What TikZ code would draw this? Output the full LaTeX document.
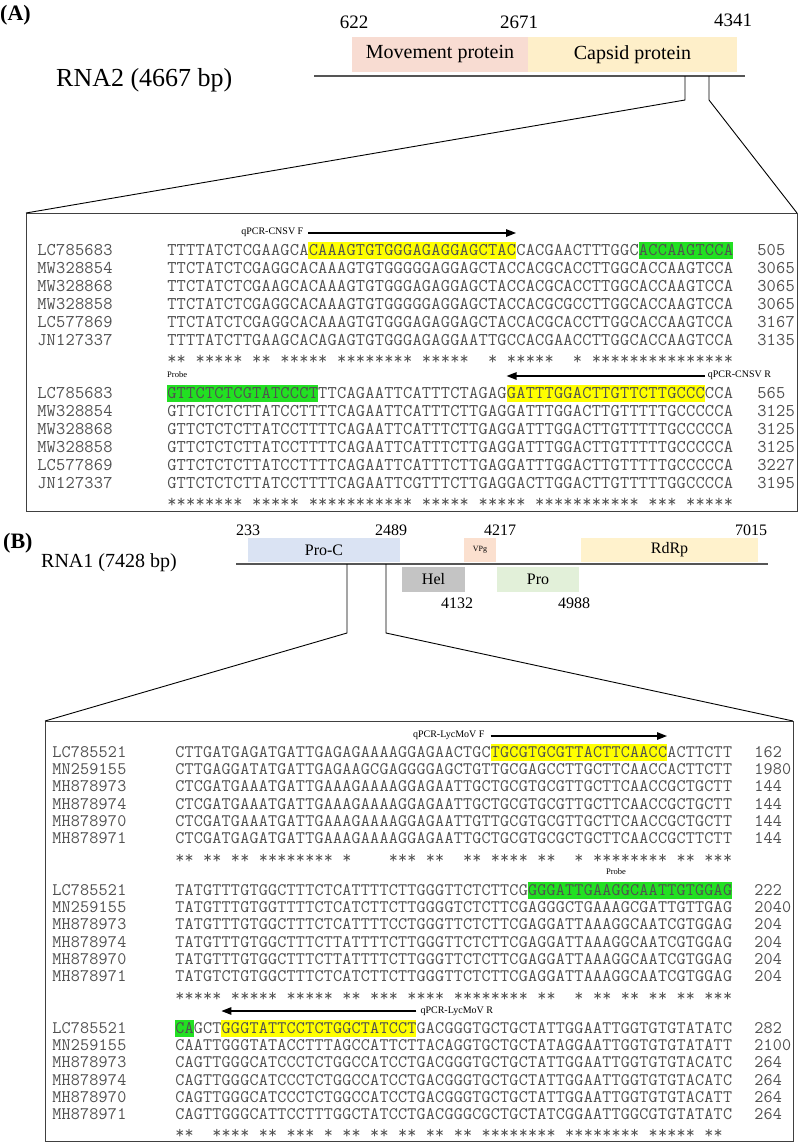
\documentclass[tikz,border=0pt]{standalone}
\usepackage{fontspec}
\setmainfont{Liberation Serif}
\usetikzlibrary{arrows.meta}
\definecolor{mpcol}{HTML}{F8DCD2}
\definecolor{cpcol}{HTML}{FEEFC9}
\definecolor{procC}{HTML}{DAE3F3}
\definecolor{vpgcol}{HTML}{FBE0CF}
\definecolor{rdrpcol}{HTML}{FFF2CC}
\definecolor{helcol}{HTML}{C4C4C4}
\definecolor{procol}{HTML}{E2F0D9}
\definecolor{hly}{HTML}{FFFF00}
\definecolor{hlg}{HTML}{22E022}
\definecolor{seqgray}{HTML}{505050}
\definecolor{framegray}{HTML}{404040}
\definecolor{axisgray}{HTML}{555555}
\newlength\chw
\newcommand\seqAfont{\ttfamily\fontsize{17.9}{20}\selectfont\setlength\chw{9.433pt}}
\newcommand\seqBfont{\ttfamily\fontsize{17.6}{20}\selectfont\setlength\chw{9.283pt}}
\def\seqstep#1{\ifx#1\relax\else\makebox[\chw][c]{#1}\expandafter\seqstep\fi}
\newcommand\dnaseq[1]{\seqstep#1\relax}
\def\stepone#1{\ifx#1\relax\else\stepout#1\expandafter\stepone\fi}
\def\stepout#1{\ifx#1.\hspace*{\chw}\else\makebox[\chw][c]{*}\fi}
\newcommand\starrow[1]{\stepone#1\relax}
\newcommand\hl[6]{\fill[#1] ({#2+#4*#3},{#6-8.5}) rectangle ({#2+#5*#3},{#6+8.5});}
\def\xA{167}\def\pA{9.433}
\def\xB{175}\def\pB{9.283}
\def\sB{17.2}
\begin{document}
\begin{tikzpicture}[x=1pt,y=-1pt,
  seqa/.style={font=\seqAfont,text=seqgray,inner sep=0pt,anchor=base west},
  seqb/.style={font=\seqBfont,text=seqgray,inner sep=0pt,anchor=base west},
  plbl/.style={font=\fontsize{10}{12}\selectfont,inner sep=0pt},
  prlbl/.style={font=\fontsize{8.5}{10}\selectfont,inner sep=0pt},
  numA/.style={font=\fontsize{19}{21}\selectfont,inner sep=0pt},
  numB/.style={font=\fontsize{16}{18}\selectfont,inner sep=0pt},
  geneA/.style={inner sep=0pt,font=\fontsize{20}{22}\selectfont,minimum height=35},
  geneB/.style={inner sep=0pt,font=\fontsize{16}{18}\selectfont},
  arr/.style={line width=1.3pt,-{Triangle[length=10pt,width=7.5pt]}},
  frame/.style={draw=framegray,line width=1pt},
  zoomline/.style={draw=black,line width=0.9pt},
  axis/.style={draw=axisgray,line width=1.3pt}]
\useasboundingbox (0,0) rectangle (800,1144);
\fill[white] (0,0) rectangle (800,1144);

%% ---------------- Header A
\node[font=\bfseries\fontsize{22}{24}\selectfont,inner sep=0pt,anchor=west] (labA) at (0,15) {(A)};
\node[font=\fontsize{26}{28}\selectfont,inner sep=0pt,anchor=west] (rnaA) at (56,80) {RNA2 (4667 bp)};
\node[geneA,fill=mpcol,minimum width=176] (mp) at (440,54.5) {Movement protein};
\node[geneA,fill=cpcol,minimum width=209] (cp) at (632.5,54.5) {Capsid protein};
\coordinate (axA1) at (314,76); \coordinate (axA2) at (745,76);
\draw[axis] (axA1) -- (axA2);
\node[numA] (nA1) at (354,22) {622};
\node[numA] (nA2) at (519,22) {2671};
\node[numA] (nA3) at (733,20) {4341};
\coordinate (zA1) at (685,76); \coordinate (zA1b) at (685,100);
\coordinate (zA2) at (709,76); \coordinate (zA2b) at (709,100);
\coordinate (boxAtl) at (26,213); \coordinate (boxAtr) at (797,213); \coordinate (boxAbr) at (797,511);
\draw[frame] (boxAtl) rectangle (boxAbr);
\draw[zoomline] (zA1) -- (zA1b) -- (boxAtl);
\draw[zoomline] (zA2) -- (zA2b) -- (boxAtr);

%% ---------------- Alignment A, block 1
\hl{hly}{\xA}{\pA}{15}{37}{250}
\hl{hlg}{\xA}{\pA}{50}{60}{250}
\coordinate (aF1) at ({\xA+15*\pA},233); \coordinate (aF2) at ({\xA+37*\pA},233);
\draw[arr] (aF1) -- (aF2);
\node[plbl,anchor=east] (aFl) at ({\xA+15*\pA-5},232) {qPCR-CNSV F};
\foreach \nm/\sqq/\nu [count=\i from 0] in {
LC785683/TTTTATCTCGAAGCACAAAGTGTGGGAGAGGAGCTACCACGAACTTTGGCACCAAGTCCA/505,
MW328854/TTCTATCTCGAGGCACAAAGTGTGGGGGAGGAGCTACCACGCACCTTGGCACCAAGTCCA/3065,
MW328868/TTCTATCTCGAAGCACAAAGTGTGGGAGAGGAGCTACCACGCACCTTGGCACCAAGTCCA/3065,
MW328858/TTCTATCTCGAGGCACAAAGTGTGGGGGAGGAGCTACCACGCGCCTTGGCACCAAGTCCA/3065,
LC577869/TTCTATCTCGAGGCACAAAGTGTGGGAGAGGAGCTACCACGCACCTTGGCACCAAGTCCA/3167,
JN127337/TTTTATCTTGAAGCACAGAGTGTGGGAGAGGAATTGCCACGAACCTTGGCACCAAGTCCA/3135}{
  \node[seqa] (a1n\i) at (37,{255.5+18*\i}) {\expandafter\dnaseq\expandafter{\nm}};
  \node[seqa] (a1s\i) at (\xA,{255.5+18*\i}) {\expandafter\dnaseq\expandafter{\sqq}};
  \node[seqa] (a1k\i) at (757,{255.5+18*\i}) {\expandafter\dnaseq\expandafter{\nu}};
}
\node[seqa] (a1st) at (\xA,364) {\starrow{**.*****.* *.*****.** ******.*** **..*.**** *..*.***** **********}};

%% ---------------- Alignment A, block 2
\hl{hlg}{\xA}{\pA}{0}{16}{393}
\hl{hly}{\xA}{\pA}{36}{57}{393}
\node[prlbl,anchor=west] (aPr) at (\xA,375) {Probe};
\coordinate (aR1) at ({\xA+57*\pA},376); \coordinate (aR2) at ({\xA+36*\pA},376);
\draw[arr] (aR1) -- (aR2);
\node[plbl,anchor=west] (aRl) at ({\xA+57*\pA+3},375) {qPCR-CNSV R};
\foreach \nm/\sqq/\nu [count=\i from 0] in {
LC785683/GTTCTCTCGTATCCCTTTCAGAATTCATTTCTAGAGGATTTGGACTTGTTCTTGCCCCCA/565,
MW328854/GTTCTCTCTTATCCTTTTCAGAATTCATTTCTTGAGGATTTGGACTTGTTTTTGCCCCCA/3125,
MW328868/GTTCTCTCTTATCCTTTTCAGAATTCATTTCTTGAGGATTTGGACTTGTTTTTGCCCCCA/3125,
MW328858/GTTCTCTCTTATCCTTTTCAGAATTCATTTCTTGAGGATTTGGACTTGTTTTTGCCCCCA/3125,
LC577869/GTTCTCTCTTATCCTTTTCAGAATTCATTTCTTGAGGATTTGGACTTGTTTTTGCCCCCA/3227,
JN127337/GTTCTCTCTTATCCTTTTCAGAATTCGTTTCTTGAGGACTTGGACTTGTTTTTGGCCCCA/3195}{
  \node[seqa] (a2n\i) at (37,{398.5+18*\i}) {\expandafter\dnaseq\expandafter{\nm}};
  \node[seqa] (a2s\i) at (\xA,{398.5+18*\i}) {\expandafter\dnaseq\expandafter{\sqq}};
  \node[seqa] (a2k\i) at (757,{398.5+18*\i}) {\expandafter\dnaseq\expandafter{\nu}};
}
\node[seqa] (a2st) at (\xA,507) {\starrow{********.* ****.***** ******.*** **.*****.* ********** .***.*****}};

%% ---------------- Header B
\node[font=\bfseries\fontsize{22}{24}\selectfont,inner sep=0pt,anchor=west] (labB) at (3,543) {(B)};
\node[font=\fontsize{20}{22}\selectfont,inner sep=0pt,anchor=west] (rnaB) at (41,563) {RNA1 (7428 bp)};
\node[geneB,fill=procC,minimum width=152,minimum height=24] (proc) at (324,550) {Pro-C};
\node[geneB,fill=vpgcol,minimum width=32,minimum height=24,font=\fontsize{8}{9}\selectfont] (vpg) at (480,550) {VPg};
\node[geneB,fill=rdrpcol,minimum width=177,minimum height=24] (rdrp) at (669.5,550) {RdRp};
\coordinate (axB1) at (236,564); \coordinate (axB2) at (768,564);
\draw[axis] (axB1) -- (axB2);
\node[geneB,fill=helcol,minimum width=63,minimum height=25] (hel) at (433.5,579.5) {Hel};
\node[geneB,fill=procol,minimum width=82,minimum height=25] (pro) at (538,579.5) {Pro};
\node[numB] (nB1) at (248,530) {233};
\node[numB] (nB2) at (391,530) {2489};
\node[numB] (nB3) at (500,530) {4217};
\node[numB] (nB4) at (751,530) {7015};
\node[numB] (nB5) at (457,603) {4132};
\node[numB] (nB6) at (574,603) {4988};
\coordinate (zB1) at (347,564); \coordinate (zB1b) at (347,633);
\coordinate (zB2) at (386,564); \coordinate (zB2b) at (386,633);
\coordinate (boxBtl) at (45,721); \coordinate (boxBtr) at (793,721); \coordinate (boxBbr) at (793,1141);
\draw[frame] (boxBtl) rectangle (boxBbr);
\draw[zoomline] (zB1) -- (zB1b) -- (boxBtl);
\draw[zoomline] (zB2) -- (zB2b) -- (boxBtr);

%% ---------------- Alignment B, block 1
\hl{hly}{\xB}{\pB}{34}{53}{752}
\coordinate (bF1) at ({\xB+34*\pB},736); \coordinate (bF2) at ({\xB+53*\pB},736);
\draw[arr] (bF1) -- (bF2);
\node[plbl,anchor=east] (bFl) at ({\xB+34*\pB-6},735) {qPCR-LycMoV F};
\foreach \nm/\sqq/\nu [count=\i from 0] in {
LC785521/CTTGATGAGATGATTGAGAGAAAAGGAGAACTGCTGCGTGCGTTACTTCAACCACTTCTT/162,
MN259155/CTTGAGGATATGATTGAGAAGCGAGGGGAGCTGTTGCGAGCCTTGCTTCAACCACTTCTT/1980,
MH878973/CTCGATGAAATGATTGAAAGAAAAGGAGAATTGCTGCGTGCGTTGCTTCAACCGCTGCTT/144,
MH878974/CTCGATGAAATGATTGAAAGAAAAGGAGAATTGCTGCGTGCGTTGCTTCAACCGCTGCTT/144,
MH878970/CTCGATGAAATGATTGAAAGAAAAGGAGAATTGTTGCGTGCGTTGCTTCAACCGCTGCTT/144,
MH878971/CTCGATGAGATGATTGAAAGAAAAGGAGAATTGCTGCGTGCGCTGCTTCAACCGCTTCTT/144}{
  \node[seqb] (b1n\i) at (52,{757.5+\sB*\i}) {\expandafter\dnaseq\expandafter{\nm}};
  \node[seqb] (b1s\i) at (\xB,{757.5+\sB*\i}) {\expandafter\dnaseq\expandafter{\sqq}};
  \node[seqb] (b1k\i) at (754,{757.5+\sB*\i}) {\expandafter\dnaseq\expandafter{\nu}};
}
\node[seqb] (b1st) at (\xB,{752+6*\sB+8}) {\starrow{**.**.**.* *******.*. ...***.**. .**.****.* *..*.***** ***.**.***}};

%% ---------------- Alignment B, block 2
\hl{hlg}{\xB}{\pB}{38}{60}{890}
\node[prlbl] (bPr) at ({\xB+47.5*\pB},872) {Probe};
\foreach \nm/\sqq/\nu [count=\i from 0] in {
LC785521/TATGTTTGTGGCTTTCTCATTTTCTTGGGTTCTCTTCGGGGATTGAAGGCAATTGTGGAG/222,
MN259155/TATGTTTGTGGTTTTCTCATCTTCTTGGGGTCTCTTCGAGGGCTGAAAGCGATTGTTGAG/2040,
MH878973/TATGTTTGTGGCTTTCTCATTTTCCTGGGTTCTCTTCGAGGATTAAAGGCAATCGTGGAG/204,
MH878974/TATGTTTGTGGCTTTCTTATTTTCTTGGGTTCTCTTCGAGGATTAAAGGCAATCGTGGAG/204,
MH878970/TATGTTTGTGGCTTTCTTATTTTCTTGGGTTCTCTTCGAGGATTAAAGGCAATCGTGGAG/204,
MH878971/TATGTCTGTGGCTTTCTCATCTTCTTGGGTTCTCTTCGAGGATTAAAGGCAATCGTGGAG/204}{
  \node[seqb] (b2n\i) at (52,{895.5+\sB*\i}) {\expandafter\dnaseq\expandafter{\nm}};
  \node[seqb] (b2s\i) at (\xB,{895.5+\sB*\i}) {\expandafter\dnaseq\expandafter{\sqq}};
  \node[seqb] (b2k\i) at (754,{895.5+\sB*\i}) {\expandafter\dnaseq\expandafter{\nu}};
}
\node[seqb] (b2st) at (\xB,{890+6*\sB+8}) {\starrow{*****.**** *.*****.** .***.****. ********.* *..*.**.** .**.**.***}};

%% ---------------- Alignment B, block 3
\hl{hlg}{\xB}{\pB}{0}{2}{1028}
\hl{hly}{\xB}{\pB}{5}{26}{1028}
\coordinate (bR1) at ({\xB+26*\pB},1011); \coordinate (bR2) at ({\xB+5*\pB},1011);
\draw[arr] (bR1) -- (bR2);
\node[plbl,anchor=west] (bRl) at ({\xB+26*\pB+4},1011) {qPCR-LycMoV R};
\foreach \nm/\sqq/\nu [count=\i from 0] in {
LC785521/CAGCTGGGTATTCCTCTGGCTATCCTGACGGGTGCTGCTATTGGAATTGGTGTGTATATC/282,
MN259155/CAATTGGGTATACCTTTAGCCATTCTTACAGGTGCTGCTATAGGAATTGGTGTGTATATT/2100,
MH878973/CAGTTGGGCATCCCTCTGGCCATCCTGACGGGTGCTGCTATTGGAATTGGTGTGTACATC/264,
MH878974/CAGTTGGGCATCCCTCTGGCCATCCTGACGGGTGCTGCTATTGGAATTGGTGTGTACATC/264,
MH878970/CAGTTGGGCATCCCTCTGGCCATCCTGACGGGTGCTGCTATTGGAATTGGTGTGTACATT/264,
MH878971/CAGTTGGGCATTCCTTTGGCTATCCTGACGGGCGCTGCTATCGGAATTGGCGTGTATATC/264}{
  \node[seqb] (b3n\i) at (52,{1033.5+\sB*\i}) {\expandafter\dnaseq\expandafter{\nm}};
  \node[seqb] (b3s\i) at (\xB,{1033.5+\sB*\i}) {\expandafter\dnaseq\expandafter{\sqq}};
  \node[seqb] (b3k\i) at (754,{1033.5+\sB*\i}) {\expandafter\dnaseq\expandafter{\nu}};
}
\node[seqb] (b3st) at (\xB,{1028+6*\sB+7.5}) {\starrow{**..****.* *.***.*.** .**.**.**. **.******* *.******** .*****.**.}};
\end{tikzpicture}
\end{document}
